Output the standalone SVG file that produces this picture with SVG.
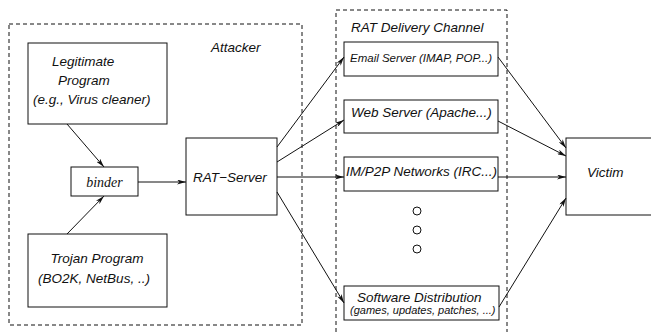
<svg xmlns="http://www.w3.org/2000/svg" width="651" height="332" viewBox="0 0 651 332">
  <style>
    .box { fill: #fff; stroke: #111; stroke-width: 1; }
    .zone { fill: none; stroke: #111; stroke-width: 1; stroke-dasharray: 4 3; }
    .lbl { font-family: "Liberation Sans", Arial, sans-serif; font-style: italic; font-size: 13.5px; fill: #111; }
    .sm { font-size: 11.5px; }
    .xs { font-size: 11px; }
    .serif { font-family: "Liberation Serif", "Times New Roman", serif; font-style: italic; font-size: 14px; fill: #111; }
    .edge { fill: none; stroke: #111; stroke-width: 1; marker-end: url(#arrow); }
    .dot { fill: #fff; stroke: #111; stroke-width: 1; }
  </style>
  <defs>
    <marker id="arrow" viewBox="0 0 9 5" refX="9" refY="2.5" markerWidth="9" markerHeight="5" markerUnits="userSpaceOnUse" orient="auto">
      <path d="M0,0 L9,2.5 L0,5 L2.5,2.5 z" fill="#111"/>
    </marker>
  </defs>
  <rect width="651" height="332" fill="#fff"/>

  <!-- zones -->
  <g id="attacker-zone">
    <rect class="zone" x="9" y="24" width="293" height="301"/>
    <text class="lbl" x="211" y="52">Attacker</text>
  </g>
  <g id="delivery-zone">
    <rect class="zone" x="336" y="10" width="171" height="340"/>
    <text class="lbl" x="351" y="32">RAT Delivery Channel</text>
  </g>

  <!-- nodes -->
  <g id="legitimate">
    <rect class="box" x="28" y="43" width="139" height="81"/>
    <text class="lbl" x="52" y="66">Legitimate</text>
    <text class="lbl" x="58" y="85">Program</text>
    <text class="lbl" x="33" y="104">(e.g., Virus cleaner)</text>
  </g>
  <g id="binder">
    <rect class="box" x="71" y="167" width="67" height="29"/>
    <text class="serif" x="104.5" y="186.5" text-anchor="middle">binder</text>
  </g>
  <g id="trojan">
    <rect class="box" x="28" y="234" width="139" height="73"/>
    <text class="lbl" x="97" y="263" text-anchor="middle">Trojan Program</text>
    <text class="lbl" x="94" y="283" text-anchor="middle">(BO2K, NetBus, ..)</text>
  </g>
  <g id="rat-server">
    <rect class="box" x="186" y="138" width="91" height="77"/>
    <text class="lbl" x="193" y="182">RAT−Server</text>
  </g>
  <g id="email">
    <rect class="box" x="344" y="42" width="154" height="34"/>
    <text class="lbl sm" x="350" y="62">Email Server (IMAP, POP...)</text>
  </g>
  <g id="web">
    <rect class="box" x="344" y="100" width="154" height="33"/>
    <text class="lbl" x="351" y="117">Web Server (Apache...)</text>
  </g>
  <g id="im-p2p">
    <rect class="box" x="344" y="157" width="154" height="34"/>
    <text class="lbl" x="346" y="176">IM/P2P Networks (IRC...)</text>
  </g>
  <g id="more">
    <circle class="dot" cx="417" cy="211" r="4"/>
    <circle class="dot" cx="417" cy="230" r="4"/>
    <circle class="dot" cx="417" cy="249" r="4"/>
  </g>
  <g id="software">
    <rect class="box" x="344" y="286" width="155" height="34"/>
    <text class="lbl" x="357" y="302">Software Distribution</text>
    <text class="lbl xs" x="350" y="314">(games, updates, patches, ...)</text>
  </g>
  <g id="victim">
    <rect class="box" x="566" y="138" width="100" height="77"/>
    <text class="lbl" x="587" y="177">Victim</text>
  </g>

  <!-- connectors -->
  <g id="connectors">
    <line class="edge" x1="67" y1="124" x2="104" y2="167"/>
    <line class="edge" x1="67" y1="234" x2="104" y2="196"/>
    <line class="edge" x1="138" y1="182" x2="186" y2="182"/>
    <line class="edge" x1="277" y1="147" x2="344" y2="57"/>
    <line class="edge" x1="277" y1="162" x2="344" y2="120"/>
    <line class="edge" x1="277" y1="177" x2="344" y2="177"/>
    <line class="edge" x1="277" y1="192" x2="344" y2="303"/>
    <line class="edge" x1="498" y1="57" x2="566" y2="148"/>
    <line class="edge" x1="498" y1="121" x2="566" y2="156"/>
    <line class="edge" x1="498" y1="177" x2="566" y2="177"/>
    <line class="edge" x1="499" y1="307" x2="566" y2="198"/>
  </g>
</svg>
